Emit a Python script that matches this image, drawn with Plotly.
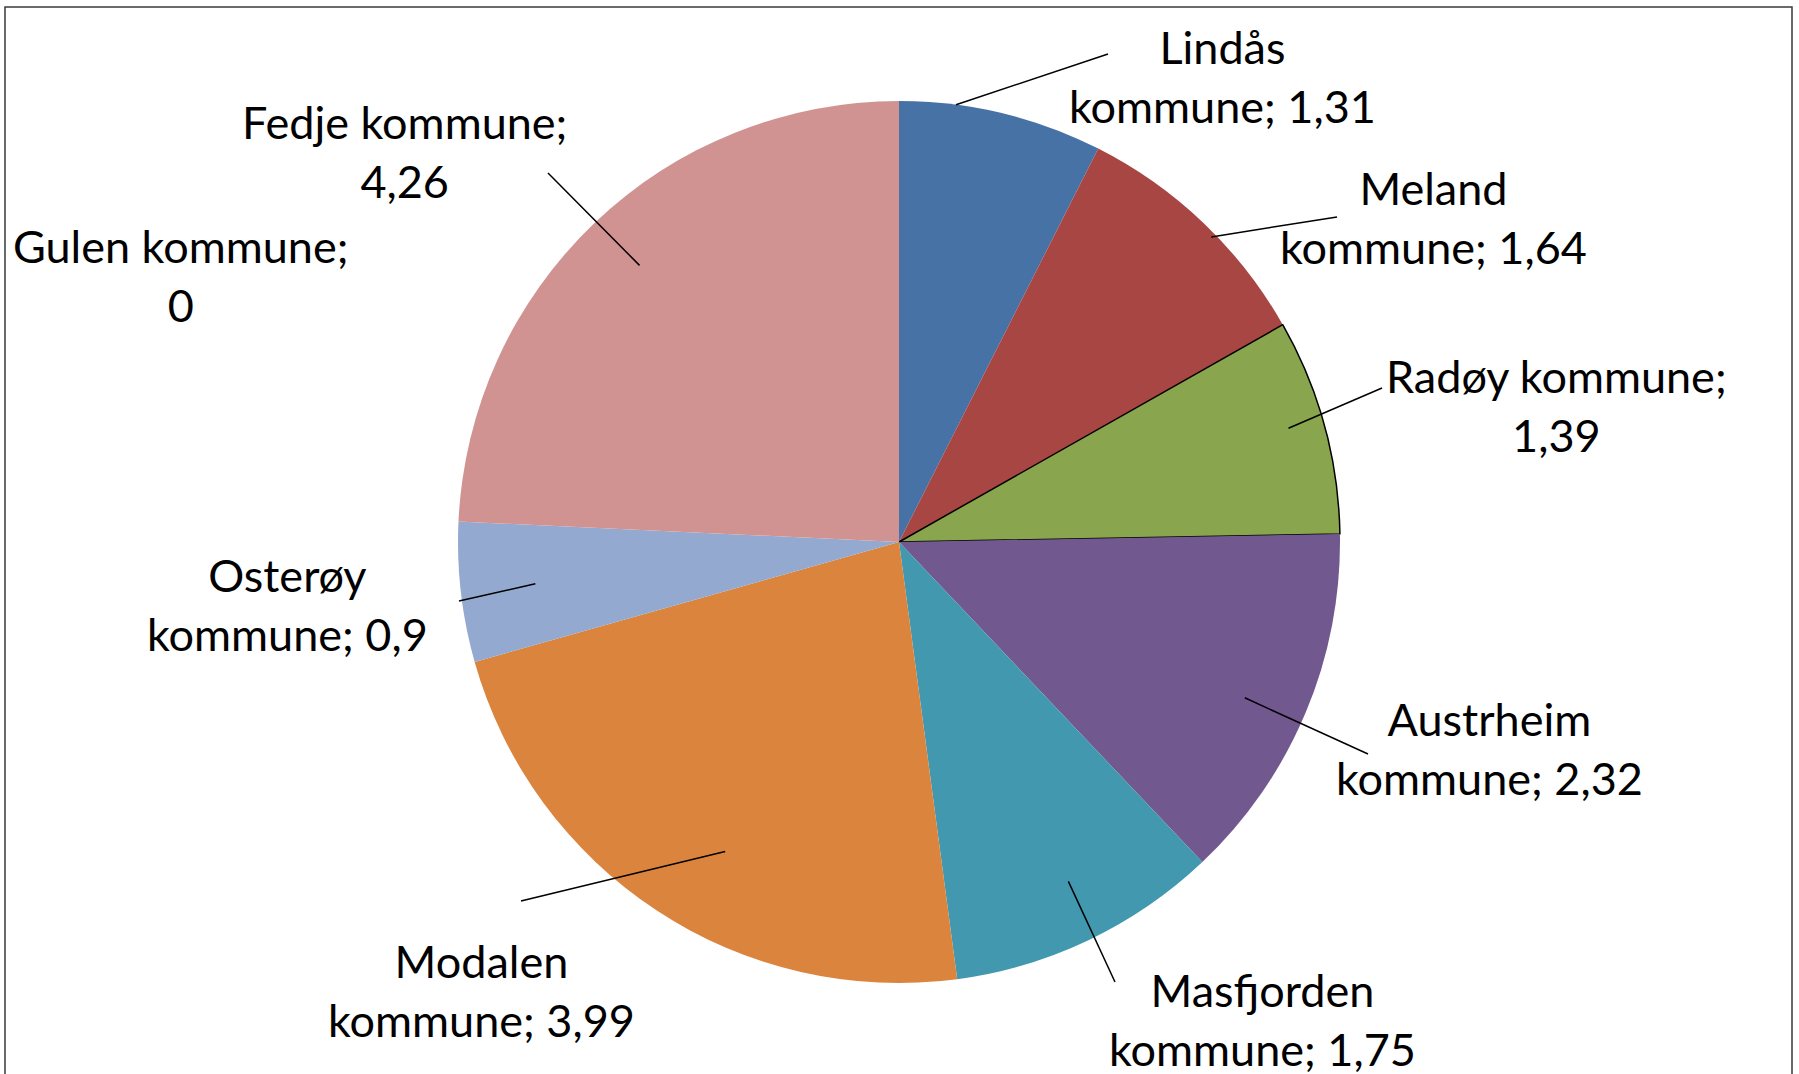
import math
import plotly.graph_objects as go

# ---- data ----
kommuner = ["Lindås kommune", "Meland kommune", "Radøy kommune", "Austrheim kommune",
            "Masfjorden kommune", "Modalen kommune", "Osterøy kommune", "Gulen kommune",
            "Fedje kommune"]
verdier = [1.31, 1.64, 1.39, 2.32, 1.75, 3.99, 0.9, 0, 4.26]

# ---- style / layout ----
farger = ["#4672A6", "#A84644", "#89A54E", "#71588F", "#4198AF", "#DB843D",
          "#93A9CF", "#B9CD96", "#D19392"]
linjebredder = [0, 0, 1.5, 0, 0, 0, 0, 0, 0]
# line-break style: "name" -> break after first word, "semi" -> break after "kommune;"
brudd = ["name", "name", "semi", "name", "name", "name", "name", "semi", "semi"]
# label centres in pixels (x, y from top)
etikett_pos = [(1222, 76), (1433, 218), (1556, 405), (1489, 748), (1262, 1019),
               (481, 990), (287, 604), (180, 275), (404, 151)]
# leader line: (inner radius fraction, angle tweak deg, outer end x, outer end y) or None
ledere = [(1.0, -6, 1108, 54), (0.99, 2, 1337, 217), (0.92, -1, 1382, 388),
          (0.86, 1.5, 1368, 754), (0.86, -1, 1115, 982), (0.805, -4, 521, 901),
          (0.83, 0, 459, 601), None, (0.86, 0.5, 548, 173)]

W, H = 1799, 1074
CX, CY, R = 899, 542, 441


def fx(x):
    return x / W


def fy(y):
    return 1 - y / H


def fmt(v):
    return f"{v:g}".replace(".", ",")


fig = go.Figure(go.Pie(
    labels=kommuner,
    values=verdier,
    sort=False,
    direction="clockwise",
    rotation=0,
    textinfo="none",
    hoverinfo="label+value",
    marker=dict(colors=farger, line=dict(color="black", width=linjebredder)),
    domain=dict(x=[fx(CX - R), fx(CX + R)], y=[fy(CY + R), fy(CY - R)]),
    showlegend=False,
))

total = sum(verdier)
annotations = []
shapes = []
cum = 0.0
for navn, v, b, pos, led in zip(kommuner, verdier, brudd, etikett_pos, ledere):
    mid = (cum + v / 2) / total * 2 * math.pi
    cum += v
    if b == "name":
        first, rest = navn.split(" ", 1)
        tekst = f"{first}<br>{rest}; {fmt(v)}"
    else:
        tekst = f"{navn};<br>{fmt(v)}"
    annotations.append(dict(
        x=fx(pos[0]), y=fy(pos[1]), xref="paper", yref="paper",
        text=tekst, showarrow=False, xanchor="center", yanchor="middle",
        align="center", font=dict(family="Lato", size=45, color="black"),
    ))
    if led is not None:
        rf, dang, ox, oy = led
        a = mid + math.radians(dang)
        ix = CX + rf * R * math.sin(a)
        iy = CY - rf * R * math.cos(a)
        shapes.append(dict(type="line", xref="paper", yref="paper",
                           x0=fx(ix), y0=fy(iy), x1=fx(ox), y1=fy(oy),
                           line=dict(color="black", width=1.5)))

# outer frame
shapes.append(dict(type="rect", xref="paper", yref="paper",
                   x0=fx(5), y0=fy(1080), x1=fx(1792), y1=fy(7),
                   line=dict(color="#3a3a3a", width=1.5), fillcolor="rgba(0,0,0,0)"))

fig.update_layout(
    width=W, height=H,
    margin=dict(l=0, r=0, t=0, b=0),
    paper_bgcolor="white", plot_bgcolor="white",
    annotations=annotations, shapes=shapes,
)

fig.write_html("out.html",
               config={"displayModeBar": False},
               post_script="document.body.style.margin='0px';document.body.style.overflow='hidden';")
